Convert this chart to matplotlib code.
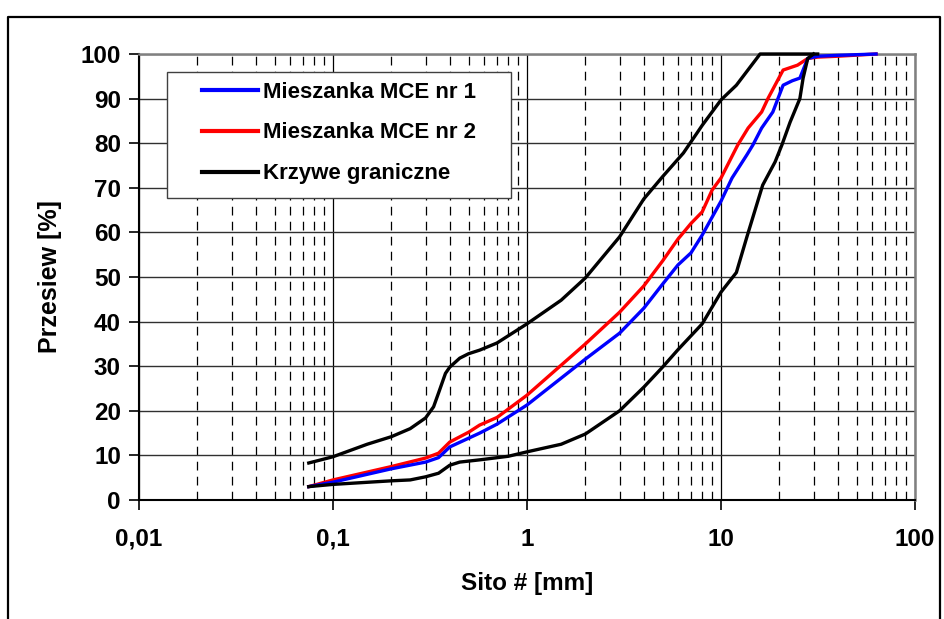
import matplotlib.pyplot as plt
from matplotlib.lines import Line2D
from matplotlib.patches import Rectangle
from matplotlib.ticker import FixedLocator, FixedFormatter, NullFormatter

plt.rcParams['font.family'] = ['Liberation Sans', 'DejaVu Sans']
plt.rcParams['font.weight'] = 'bold'

# sieve sizes [mm] and passing [%]
mce1_sieve = [0.075, 0.1, 0.2, 0.3, 0.35, 0.4, 0.57, 0.7, 1, 2, 3, 4, 5, 6, 7, 8, 10, 11.4, 13.6, 14.6, 16.2, 18.5, 19.7, 20.9, 23.3, 25.5, 28, 31.5, 40, 63]
mce1_pass = [3, 4, 7, 8.5, 9.5, 11.9, 15, 17, 21.3, 31.6, 37.4, 43, 48.4, 52.7, 55.4, 59.4, 67, 72.2, 77.4, 79.6, 83.4, 87, 90.1, 93, 94, 94.6, 99, 99.5, 99.7, 100]

mce2_sieve = [0.075, 0.1, 0.2, 0.3, 0.35, 0.4, 0.5, 0.57, 0.7, 1, 2, 3, 4, 5, 6, 7, 8, 9, 10, 12.2, 13.8, 16.2, 17.5, 20.9, 24.8, 28, 31.5, 40, 63]
mce2_pass = [3, 4.5, 7.5, 9.4, 10.5, 13, 15.2, 16.8, 18.5, 23.5, 35, 42.1, 48, 53.6, 58.5, 62, 64.6, 69.5, 72.2, 79.6, 83.4, 87, 90.1, 96.4, 97.5, 99, 99.3, 99.5, 100]

upper_sieve = [0.075, 0.1, 0.15, 0.2, 0.25, 0.3, 0.33, 0.35, 0.38, 0.4, 0.45, 0.5, 0.57, 0.7, 1, 1.5, 2, 3, 4, 5, 6.4, 8, 10, 12, 15.9, 31.5]
upper_pass = [8.3, 9.7, 12.5, 14.2, 16, 18.4, 20.9, 24, 28.4, 29.8, 31.8, 32.8, 33.6, 35.2, 39.5, 44.8, 49.8, 59, 67.5, 72.5, 77.8, 84, 89.7, 93, 100, 100]

lower_sieve = [0.075, 0.1, 0.2, 0.25, 0.3, 0.35, 0.4, 0.45, 0.57, 0.8, 1, 1.5, 2, 3, 4, 5, 6, 8, 10, 12, 13.6, 16.4, 19, 20.6, 22.7, 25.5, 26.5, 28, 30]
lower_pass = [3, 3.5, 4.3, 4.5, 5.2, 6, 7.8, 8.5, 9, 9.8, 10.8, 12.5, 14.8, 20, 25.3, 29.8, 33.7, 39.5, 46.6, 51, 59, 70.6, 75.8, 79.6, 84.7, 90, 94.6, 99, 100]

labels = ['Mieszanka MCE nr 1', 'Mieszanka MCE nr 2', 'Krzywe graniczne']
x_ticks = [0.01, 0.1, 1, 10, 100]
x_ticklabels = ['0,01', '0,1', '1', '10', '100']
y_ticks = list(range(0, 101, 10))

fig = plt.figure(figsize=(9.44, 6.19), dpi=100)
ax = fig.add_axes([139 / 944, 1 - 500 / 619, 776 / 944, 446 / 619])

ax.set_xscale('log')
ax.set_xlim(0.01, 100)
ax.set_ylim(0, 100)

# grid
minor = [m * 10.0 ** e for e in range(-2, 2) for m in range(2, 10)]
ax.xaxis.set_major_locator(FixedLocator(x_ticks))
ax.xaxis.set_major_formatter(FixedFormatter(x_ticklabels))
ax.xaxis.set_minor_locator(FixedLocator(minor))
ax.xaxis.set_minor_formatter(NullFormatter())
ax.set_yticks(y_ticks)
ax.grid(True, which='major', axis='x', color='black', lw=0.9)
ax.grid(True, which='minor', axis='x', color='black', lw=0.9, linestyle=(0, (7, 5)))
ax.grid(True, which='major', axis='y', color='#303030', lw=1.0)
ax.set_axisbelow(True)

ax.plot(mce1_sieve, mce1_pass, color='#0000ff', lw=2.4, label=labels[0], clip_on=False, zorder=4)
ax.plot(mce2_sieve, mce2_pass, color='#ff0000', lw=2.4, label=labels[1], clip_on=False, zorder=3)
ax.plot(upper_sieve, upper_pass, color='black', lw=2.4, label=labels[2], clip_on=False, zorder=5)
ax.plot(lower_sieve, lower_pass, color='black', lw=2.4, clip_on=False, zorder=5)

for s in ['left', 'bottom']:
    ax.spines[s].set_color('black')
    ax.spines[s].set_linewidth(1.5)
for s in ['right', 'top']:
    ax.spines[s].set_color('#808080')
    ax.spines[s].set_linewidth(1.8)

ax.tick_params(axis='x', which='major', direction='out', length=7, width=1.2, pad=13, labelsize=17.5)
ax.tick_params(axis='x', which='minor', length=0)
ax.tick_params(axis='y', direction='out', length=7, width=1.2, pad=6, labelsize=17.5)

ax.set_xlabel('Sito # [mm]', fontsize=17.5, fontweight='bold', labelpad=15)
ax.set_ylabel('Przesiew [%]', fontsize=18, fontweight='bold')
ax.yaxis.set_label_coords(-0.099, 0.5)

# legend box drawn separately so the inner padding matches
ax.add_patch(Rectangle((28 / 776, 302 / 446), 344 / 776, 126 / 446, transform=ax.transAxes,
                       facecolor='white', edgecolor='#404040', lw=1.0, zorder=2))
leg = ax.legend(loc='center left', bbox_to_anchor=(63 / 776, (500 - 133) / 446), fontsize=16,
                frameon=False, handlelength=2.5, handletextpad=0.25,
                labelspacing=0.9, borderpad=0, borderaxespad=0)
leg.set_zorder(6)
for line in leg.get_lines():
    line.set_linewidth(3.0)

# outer frame
fx0, fx1, fy1 = 8 / 944, 940 / 944, 1 - 17 / 619
fig.add_artist(Line2D([fx0, fx0, fx1, fx1], [0, fy1, fy1, 0], color='black', lw=1.6,
                      transform=fig.transFigure))

fig.savefig('out.png', dpi=100)
